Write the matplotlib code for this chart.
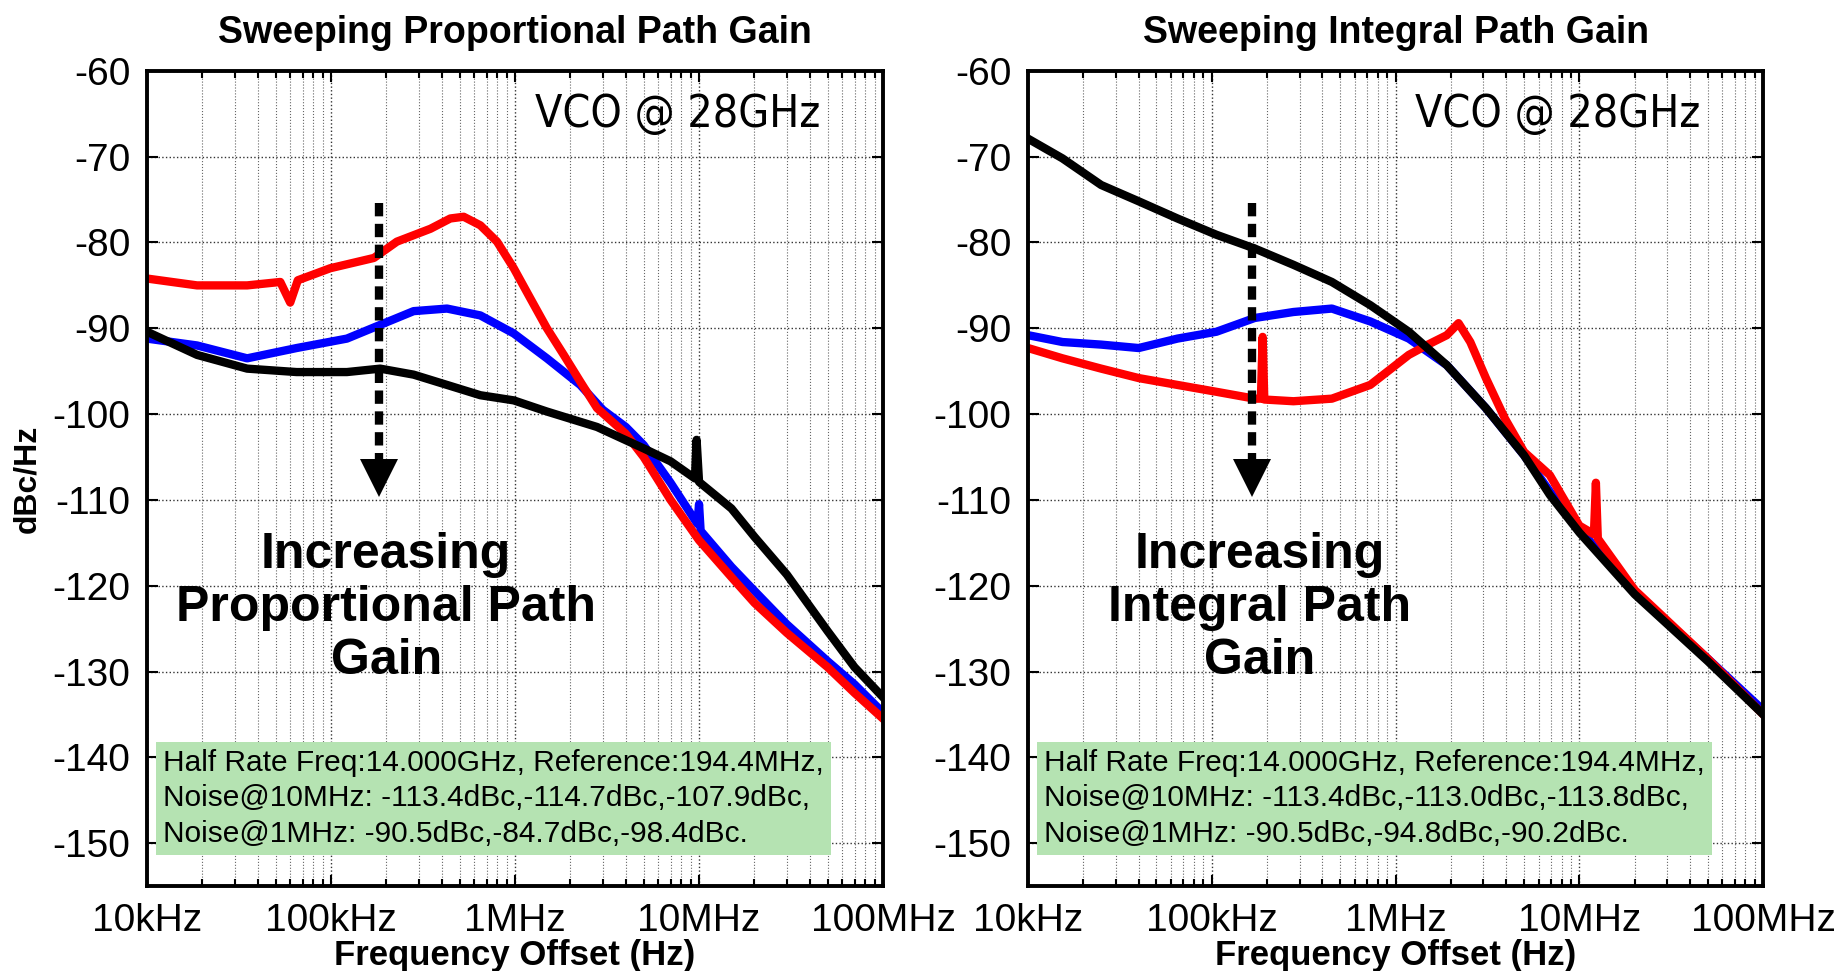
import matplotlib
matplotlib.use("Agg")
import matplotlib.pyplot as plt
from matplotlib.ticker import FixedLocator, LogLocator, NullFormatter

plt.rcParams['font.family'] = ['Liberation Sans', 'DejaVu Sans']
plt.rcParams['axes.unicode_minus'] = False

# ---- data (Hz, dBc/Hz) ----
# left panel: sweeping proportional path gain
prop_blue_f = [1.0e4, 1.87e4, 3.5e4, 6.5e4, 1.22e5, 1.85e5, 2.81e5, 4.27e5, 6.48e5, 9.84e5,
               1.49e6, 2.26e6, 3.0e6, 4.0e6, 5.0e6, 7.0e6, 9.8e6, 1.0e7, 1.02e7, 1.5e7,
               2.0e7, 3.0e7, 5.0e7, 7.0e7, 1.0e8]
prop_blue_db = [-91.2, -92.0, -93.5, -92.3, -91.2, -89.6, -88.0, -87.7, -88.5, -90.6,
                -93.5, -96.6, -99.5, -101.5, -103.6, -108.0, -112.8, -110.5, -113.6, -117.8,
                -120.6, -124.5, -128.8, -131.5, -134.8]

prop_red_f = [1.0e4, 1.87e4, 3.5e4, 5.3e4, 6.0e4, 6.6e4, 9.9e4, 1.71e5, 2.28e5, 3.47e5,
              4.45e5, 5.26e5, 6.48e5, 7.98e5, 9.84e5, 1.21e6, 1.49e6, 1.84e6, 2.26e6, 2.79e6,
              4.0e6, 5.0e6, 7.0e6, 1.0e7, 1.5e7, 2.0e7, 3.0e7, 5.0e7, 7.0e7, 1.0e8]
prop_red_db = [-84.2, -85.0, -85.0, -84.6, -87.0, -84.4, -83.0, -81.8, -79.9, -78.4,
               -77.2, -77.0, -78.0, -79.9, -83.0, -86.5, -90.0, -93.1, -96.2, -99.3,
               -102.3, -105.0, -110.0, -114.7, -119.0, -122.0, -125.5, -129.5, -132.5, -135.5]

prop_black_f = [1.0e4, 1.87e4, 3.5e4, 6.5e4, 1.22e5, 1.85e5, 2.81e5, 4.27e5, 6.48e5, 9.84e5,
                1.49e6, 2.79e6, 5.0e6, 7.0e6, 9.5e6, 9.7e6, 1.0e7, 1.5e7, 2.0e7, 3.0e7,
                5.0e7, 7.0e7, 1.0e8]
prop_black_db = [-90.4, -93.1, -94.7, -95.1, -95.1, -94.7, -95.4, -96.6, -97.8, -98.4,
                 -99.7, -101.5, -104.0, -105.5, -107.5, -103.0, -107.9, -111.0, -114.3, -118.7,
                 -125.3, -129.5, -133.0]

# right panel: sweeping integral path gain
int_blue_f = [1.0e4, 1.54e4, 2.5e4, 4.0e4, 6.5e4, 1.06e5, 1.71e5, 2.78e5, 4.5e5, 7.28e5,
              1.18e6, 1.9e6, 3.1e6, 5.0e6, 6.9e6, 1.0e7, 2.0e7, 5.0e7, 1.0e8]
int_blue_db = [-90.8, -91.6, -91.9, -92.3, -91.2, -90.4, -88.8, -88.1, -87.7, -89.2,
               -91.2, -94.3, -99.3, -104.8, -109.0, -113.4, -120.8, -128.5, -134.5]

int_red_f = [1.0e4, 1.54e4, 2.5e4, 4.0e4, 6.5e4, 1.06e5, 1.71e5, 1.85e5, 1.89e5, 1.93e5,
             2.78e5, 4.5e5, 7.28e5, 1.18e6, 1.5e6, 1.9e6, 2.2e6, 2.55e6, 3.1e6, 3.93e6,
             5.0e6, 6.9e6, 1.0e7, 1.2e7, 1.23e7, 1.26e7, 2.0e7, 5.0e7, 1.0e8]
int_red_db = [-92.3, -93.5, -94.7, -95.8, -96.6, -97.4, -98.2, -98.2, -91.0, -98.3,
              -98.5, -98.2, -96.6, -93.1, -91.9, -90.8, -89.4, -91.6, -95.8, -100.5,
              -104.4, -107.1, -113.0, -114.0, -108.0, -114.5, -120.5, -128.5, -135.0]

int_black_f = [1.0e4, 1.54e4, 2.5e4, 4.0e4, 6.5e4, 1.06e5, 1.71e5, 2.78e5, 4.5e5, 7.28e5,
               1.18e6, 1.9e6, 3.1e6, 5.0e6, 6.9e6, 1.0e7, 2.0e7, 5.0e7, 1.0e8]
int_black_db = [-67.9, -70.2, -73.3, -75.2, -77.2, -79.1, -80.7, -82.6, -84.6, -87.3,
                -90.4, -94.3, -99.3, -104.8, -109.4, -113.8, -121.0, -128.8, -135.0]

x_ticks = [1e4, 1e5, 1e6, 1e7, 1e8]
x_labels = ['10kHz', '100kHz', '1MHz', '10MHz', '100MHz']
y_ticks = [-150, -140, -130, -120, -110, -100, -90, -80, -70, -60]

titles = ['Sweeping Proportional Path Gain', 'Sweeping Integral Path Gain']
sweep_labels = ['Increasing\nProportional Path\nGain', 'Increasing\nIntegral Path\nGain']
info_texts = [
    'Half Rate Freq:14.000GHz, Reference:194.4MHz,\n'
    'Noise@10MHz: -113.4dBc,-114.7dBc,-107.9dBc,\n'
    'Noise@1MHz: -90.5dBc,-84.7dBc,-98.4dBc.',
    'Half Rate Freq:14.000GHz, Reference:194.4MHz,\n'
    'Noise@10MHz: -113.4dBc,-113.0dBc,-113.8dBc,\n'
    'Noise@1MHz: -90.5dBc,-94.8dBc,-90.2dBc.',
]
arrow_freq = [1.82e5, 1.65e5]
arrow_top, arrow_tip = -75.4, -107.5

curves = [
    [(prop_blue_f, prop_blue_db, 'blue'), (prop_red_f, prop_red_db, 'red'),
     (prop_black_f, prop_black_db, 'black')],
    [(int_blue_f, int_blue_db, 'blue'), (int_red_f, int_red_db, 'red'),
     (int_black_f, int_black_db, 'black')],
]

fig = plt.figure(figsize=(18.47, 9.71), dpi=100)
axes = [fig.add_axes([0.0796, 0.0875, 0.3985, 0.8395]),
        fig.add_axes([0.5566, 0.0875, 0.398, 0.8395])]

for i, ax in enumerate(axes):
    for f, db, c in curves[i]:
        ax.plot(f, db, color=c, lw=6, solid_joinstyle='round')

    ax.set_xscale('log')
    ax.set_xlim(1e4, 1e8)
    ax.set_ylim(-155, -60)
    ax.xaxis.set_major_locator(FixedLocator(x_ticks))
    ax.set_xticklabels(x_labels)
    ax.xaxis.set_minor_locator(LogLocator(base=10, subs=range(2, 10)))
    ax.xaxis.set_minor_formatter(NullFormatter())
    ax.set_yticks(y_ticks)
    ax.tick_params(which='both', direction='in', top=True, right=True,
                   labelsize=28, width=1.5)
    ax.tick_params(which='major', length=8, pad=12)
    ax.tick_params(which='minor', length=5)
    ax.grid(which='major', ls=':', color='#333333', lw=1.0)
    ax.grid(which='minor', axis='x', ls=':', color='#666666', lw=0.8)
    for sp in ax.spines.values():
        sp.set_linewidth(2.8)

    ax.set_title(titles[i], fontsize=27, fontweight='bold', pad=20)
    ax.set_xlabel('Frequency Offset (Hz)', fontsize=25, fontweight='bold', labelpad=0)

    ax.text(0.915, 0.947, 'VCO @ 28GHz', transform=ax.transAxes, ha='right',
            va='center', fontsize=32, family='DejaVu Sans', fontstretch='condensed')

    ax.text(0.325 - 0.01 * i, 0.341, sweep_labels[i], transform=ax.transAxes,
            ha='center', va='center', fontsize=36, fontweight='bold',
            linespacing=1.2)

    # dashed downward arrow
    ax.plot([arrow_freq[i], arrow_freq[i]], [arrow_top, arrow_tip + 2], color='black',
            lw=6, ls=(0, (1.6, 0.9)), solid_capstyle='round')
    ax.plot([arrow_freq[i]], [arrow_tip], marker='v', color='black', markersize=28,
            markeredgewidth=0)

    ax.text(0.022, 0.168, info_texts[i], transform=ax.transAxes, ha='left',
            va='top', fontsize=21.5, linespacing=1.33,
            bbox=dict(boxstyle='square,pad=0.25', facecolor='#b5e3b2',
                      edgecolor='none'))

axes[0].set_ylabel('dBc/Hz', fontsize=23, fontweight='bold', labelpad=7)

fig.savefig('out.png', dpi=100)
